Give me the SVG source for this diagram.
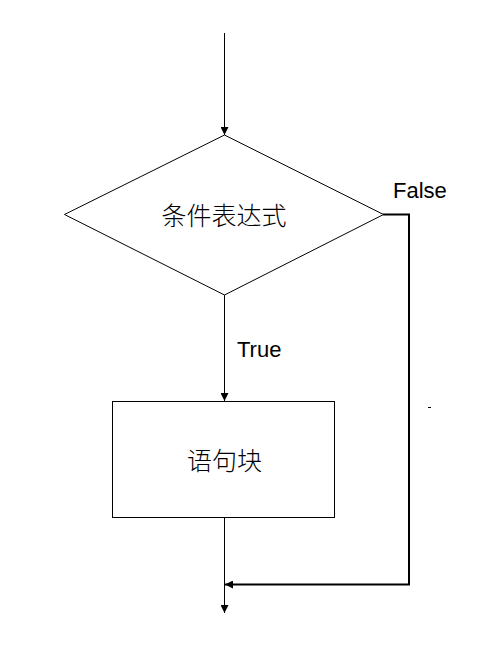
<svg xmlns="http://www.w3.org/2000/svg" width="489" height="665" viewBox="0 0 489 665">
<style>
.shape{fill:#fff;stroke:#000;stroke-width:1}
.line{fill:none;stroke:#000;stroke-width:1}
.thick{fill:none;stroke:#000;stroke-width:2}
.cjk{font-family:"Noto Sans CJK SC","Noto Sans",sans-serif;font-size:25px;font-weight:300;fill:#000}
.lbl{font-family:"Liberation Sans","Noto Sans",sans-serif;font-size:22px;fill:#000}
</style>
<defs>
<marker id="ah" viewBox="0 0 10 10" refX="10" refY="5" markerWidth="8" markerHeight="8" markerUnits="userSpaceOnUse" orient="auto">
<path d="M0,0 L10,5 L0,10 Z" fill="#000"/>
</marker>
</defs>
<rect width="489" height="665" fill="#fff"/>
<g id="connectors">
<line class="line" x1="224.5" y1="33" x2="224.5" y2="135" marker-end="url(#ah)"/>
<line class="line" x1="224.5" y1="295" x2="224.5" y2="401" marker-end="url(#ah)"/>
<line class="line" x1="224.5" y1="517" x2="224.5" y2="613" marker-end="url(#ah)"/>
<polyline class="thick" points="383,214.5 409,214.5 409,584.5 225,584.5" marker-end="url(#ah)"/>
<line class="line" x1="428" y1="407.5" x2="431" y2="407.5" stroke="#666"/>
</g>
<g id="condition">
<polygon class="shape" points="224.5,135 383.5,214.5 224.5,295 64.5,214.5"/>
<text class="cjk" x="224" y="225" text-anchor="middle">条件表达式</text>
</g>
<g id="block">
<rect class="shape" x="112.5" y="401.5" width="222" height="116"/>
<text class="cjk" x="224.5" y="470" text-anchor="middle">语句块</text>
</g>
<g id="labels">
<text class="lbl" x="393" y="198">False</text>
<text class="lbl" x="237" y="357">True</text>
</g>
</svg>
